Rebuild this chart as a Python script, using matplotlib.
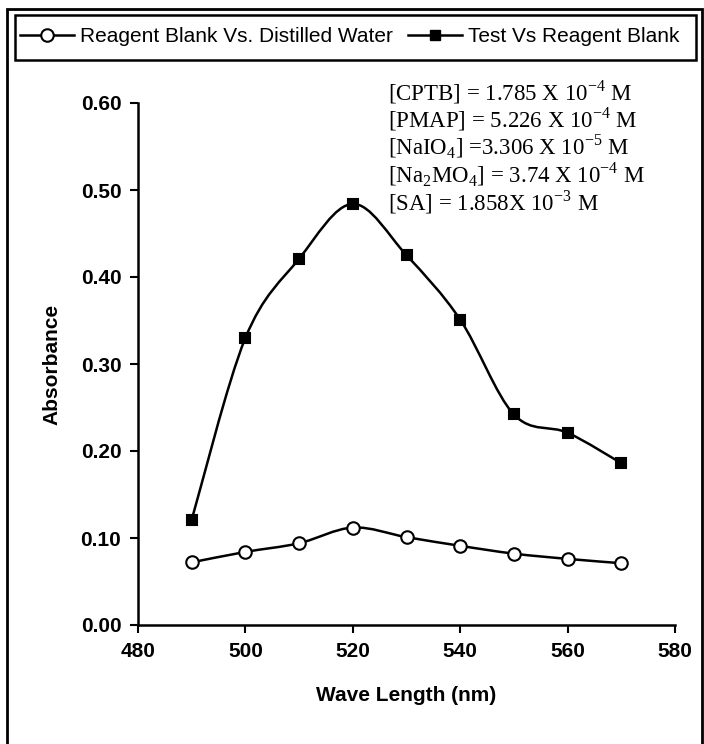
import matplotlib
matplotlib.use('Agg')
import matplotlib.pyplot as plt
from matplotlib.path import Path
from matplotlib.patches import PathPatch, Rectangle
from matplotlib.lines import Line2D

# data
wavelength = [490, 500, 510, 520, 530, 540, 550, 560, 570]
blank_abs = [0.072, 0.084, 0.094, 0.112, 0.101, 0.091, 0.082, 0.076, 0.071]
test_abs = [0.121, 0.330, 0.421, 0.484, 0.425, 0.351, 0.242, 0.221, 0.186]
series_names = ['Reagent Blank Vs. Distilled Water', 'Test Vs Reagent Blank']
conc_lines = [r'[CPTB] = 1.785 X 10$^{-4}$ M',
              r'[PMAP] = 5.226 X 10$^{-4}$ M',
              r'[NaIO$_4$] =3.306 X 10$^{-5}$ M',
              r'[Na$_2$MO$_4$] = 3.74 X 10$^{-4}$ M',
              r'[SA] = 1.858X 10$^{-3}$ M']
xticks = [480, 500, 520, 540, 560, 580]
yticks = [0.0, 0.1, 0.2, 0.3, 0.4, 0.5, 0.6]

plt.rcParams['font.family'] = ['Liberation Sans', 'DejaVu Sans']
plt.rcParams['mathtext.fontset'] = 'custom'
plt.rcParams['mathtext.rm'] = 'Liberation Serif'


def smooth_path(xs, ys, t=0.5):
    # excel-like smoothed line: catmull-rom segments as cubic beziers
    pts = list(zip(xs, ys))
    verts = [pts[0]]
    codes = [Path.MOVETO]
    n = len(pts)
    for i in range(n - 1):
        p0 = pts[i - 1] if i > 0 else pts[i]
        p1 = pts[i]
        p2 = pts[i + 1]
        p3 = pts[i + 2] if i + 2 < n else pts[i + 1]
        c1 = (p1[0] + (p2[0] - p0[0]) * t / 3, p1[1] + (p2[1] - p0[1]) * t / 3)
        c2 = (p2[0] - (p3[0] - p1[0]) * t / 3, p2[1] - (p3[1] - p1[1]) * t / 3)
        verts += [c1, c2, p2]
        codes += [Path.CURVE4] * 3
    return Path(verts, codes)


fig = plt.figure(figsize=(7.04, 7.44), dpi=100)
ax = fig.add_axes([138 / 704, 1 - 625 / 744, 537 / 704, 522 / 744])

for ys, mk, fc in [(blank_abs, 'o', 'white'), (test_abs, 's', 'black')]:
    ax.add_patch(PathPatch(smooth_path(wavelength, ys), fill=False, lw=1.8, color='black', zorder=2))
    ax.plot(wavelength, ys, ls='none', marker=mk, ms=9 if mk == 'o' else 7,
            mfc=fc, mec='black', mew=1.5, zorder=3)

ax.set_xlim(480, 580)
ax.set_ylim(0, 0.6)
ax.set_xticks(xticks)
ax.set_yticks(yticks)
ax.set_yticklabels(['%.2f' % v for v in yticks])
ax.tick_params(direction='out', length=6, width=1.5, labelsize=15, pad=6)
for lab in ax.get_xticklabels() + ax.get_yticklabels():
    lab.set_fontweight('bold')
ax.spines['top'].set_visible(False)
ax.spines['right'].set_visible(False)
ax.spines['left'].set_linewidth(1.8)
ax.spines['bottom'].set_linewidth(1.8)
ax.set_xlabel('Wave Length (nm)', fontsize=15, fontweight='bold', labelpad=18)
ax.set_ylabel('Absorbance', fontsize=15, fontweight='bold', labelpad=14)

for i, s in enumerate(conc_lines):
    fig.text(388 / 704, 1 - (92 + 27.5 * i) / 744, s, family='Liberation Serif',
             fontsize=16.5, va='center', ha='left')

# outer frame and legend box
fig.patches.append(Rectangle((7 / 704, -0.05), 695 / 704, 1.05 - 9 / 744, transform=fig.transFigure,
                             fill=False, lw=2, ec='black'))
fig.patches.append(Rectangle((15 / 704, 1 - 60 / 744), 681 / 704, 45 / 744, transform=fig.transFigure,
                             fill=False, lw=1.8, ec='black'))

handles = [Line2D([], [], color='black', lw=1.8, marker='o', ms=9, mfc='white', mew=1.5),
           Line2D([], [], color='black', lw=1.8, marker='s', ms=7, mfc='black')]
fig.legend(handles, series_names, loc='center left', bbox_to_anchor=(20 / 704, 1 - 37 / 744),
           ncol=2, frameon=False, fontsize=15, handlelength=2.6, handletextpad=0.3,
           columnspacing=0.7, borderpad=0, borderaxespad=0)

fig.savefig('out.png', dpi=100)
